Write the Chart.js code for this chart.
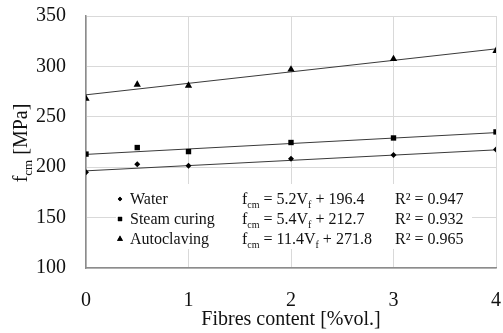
<!DOCTYPE html>
<html>
<head>
<meta charset="utf-8">
<script src="https://cdn.jsdelivr.net/npm/chart.js@4"></script>
<style>
  html, body { margin: 0; padding: 0; background: #fff; }
  #wrap { width: 503px; height: 333px; }
</style>
</head>
<body>
<div id="wrap"><canvas id="fcmChart" width="503" height="333"></canvas></div>
<script>
// measured compressive strength per curing regime
const fibreContent = [0, 0.5, 1, 2, 3, 4];
const waterFcm = [195, 203, 201.5, 208.5, 212, 217.5];
const steamFcm = [213, 219.5, 215.5, 224.5, 229, 235];
const autoclaveFcm = [268, 282, 281, 297, 307.5, 315.5];

// linear fits fcm = a*Vf + b
const seriesNames = ["Water", "Steam curing", "Autoclaving"];
const fitSlopes = [5.2, 5.4, 11.4];
const fitIntercepts = [196.4, 212.7, 271.8];
const fitR2 = ["0.947", "0.932", "0.965"];

const xTicks = [0, 1, 2, 3, 4];
const yTicks = [100, 150, 200, 250, 300, 350];

const FONT = "'Liberation Serif', 'Times New Roman', serif";
const markerStyles = ["rectRot", "rect", "triangle"];
const markerSizes = [3, 3.8, 4.2];
const measured = [waterFcm, steamFcm, autoclaveFcm];

function toPoints(xs, ys) {
  return ys.map((y, i) => ({ x: xs[i], y: y }));
}

let datasets = [];
measured.forEach((vals, i) => {
  datasets.push({
    label: seriesNames[i],
    type: "scatter",
    data: toPoints(fibreContent, vals),
    pointStyle: markerStyles[i],
    pointRadius: markerSizes[i],
    pointBackgroundColor: "#000",
    pointBorderColor: "#000",
    pointBorderWidth: 0,
    showLine: false,
  });
});
// trend lines from the fitted equations
fitSlopes.forEach((a, i) => {
  const x0 = xTicks[0], x1 = xTicks[xTicks.length - 1];
  datasets.push({
    label: seriesNames[i] + " fit",
    type: "line",
    data: [{ x: x0, y: a * x0 + fitIntercepts[i] }, { x: x1, y: a * x1 + fitIntercepts[i] }],
    borderColor: "#3a3a3a",
    borderWidth: 1,
    pointRadius: 0,
    fill: false,
  });
});

// draw text with subscripts, parts = [[text, isSub], ...]
function richText(ctx, parts, x, y, size, measureOnly) {
  let cx = x;
  parts.forEach(([t, sub]) => {
    ctx.font = (sub ? Math.round(size * 0.65) : size) + "px " + FONT;
    if (!measureOnly) ctx.fillText(t, cx, sub ? y + size * 0.25 : y);
    cx += ctx.measureText(t).width;
  });
  return cx - x;
}

const annotations = {
  id: "annotations",
  beforeDatasetsDraw(chart) {
    // white panel behind the legend
    const ctx = chart.ctx;
    ctx.save();
    ctx.fillStyle = "#fff";
    ctx.fillRect(116, 184, 356, 65);
    ctx.restore();
  },
  afterDraw(chart) {
    const ctx = chart.ctx;
    ctx.save();
    ctx.fillStyle = "#111";
    ctx.textBaseline = "alphabetic";
    ctx.textAlign = "left";

    // y axis title, rotated
    ctx.save();
    ctx.translate(27, 143);
    ctx.rotate(-Math.PI / 2);
    const yTitle = [["f", 0], ["cm", 1], [" [MPa]", 0]];
    const w = richText(ctx, yTitle, 0, 0, 20, true);
    richText(ctx, yTitle, -w / 2, 0, 20);
    ctx.restore();

    // legend rows
    const rowY = [199, 219, 239];
    seriesNames.forEach((name, i) => {
      const y = rowY[i];
      if (Chart.helpers && Chart.helpers.drawPoint) {
        ctx.fillStyle = "#000";
        ctx.strokeStyle = "#000";
        ctx.lineWidth = 0;
        Chart.helpers.drawPoint(ctx, { pointStyle: markerStyles[i], radius: markerSizes[i] - 0.8, rotation: 0, borderWidth: 0 }, 120, y);
        ctx.fill();
      }
      ctx.fillStyle = "#111";
      richText(ctx, [[name, 0]], 130, y + 5, 16);
      richText(ctx, [["f", 0], ["cm", 1], [" = " + fitSlopes[i] + "V", 0], ["f", 1], [" + " + fitIntercepts[i], 0]], 242, y + 5, 16);
      richText(ctx, [["R\u00b2 = " + fitR2[i], 0]], 395, y + 5, 16);
    });
    ctx.restore();
  },
};

const ctx = document.getElementById("fcmChart").getContext("2d");
new Chart(ctx, {
  data: { datasets: datasets },
  options: {
    responsive: false,
    animation: false,
    layout: { padding: { top: 16, right: 7, bottom: 0, left: 0 } },
    plugins: { legend: { display: false }, tooltip: { enabled: false } },
    scales: {
      x: {
        type: "linear",
        min: 0,
        max: 4,
        afterBuildTicks: (axis) => { axis.ticks = xTicks.map(v => ({ value: v })); },
        afterFit: (axis) => {
          axis.height = 65;
          axis.paddingLeft = 0;
          axis.paddingRight = 0;
        },
        grid: { color: "#d9d9d9", lineWidth: 1, drawTicks: false },
        border: { color: "#8c8c8c", width: 1.5 },
        ticks: { color: "#111", padding: 21, font: { family: FONT, size: 20 } },
        title: { display: true, text: "Fibres content [%vol.]", color: "#111", padding: { top: 0, bottom: 1 }, font: { family: FONT, size: 20 } },
      },
      y: {
        type: "linear",
        min: 100,
        max: 350,
        afterBuildTicks: (axis) => { axis.ticks = yTicks.map(v => ({ value: v })); },
        afterFit: (axis) => {
          axis.width = 86;
          axis.paddingTop = 0;
          axis.paddingBottom = 0;
        },
        grid: { color: "#d9d9d9", lineWidth: 1, drawTicks: false },
        border: { color: "#8c8c8c", width: 1.5 },
        ticks: { color: "#111", padding: 20, font: { family: FONT, size: 20 } },
      },
    },
  },
  plugins: [annotations],
});
</script>
</body>
</html>
